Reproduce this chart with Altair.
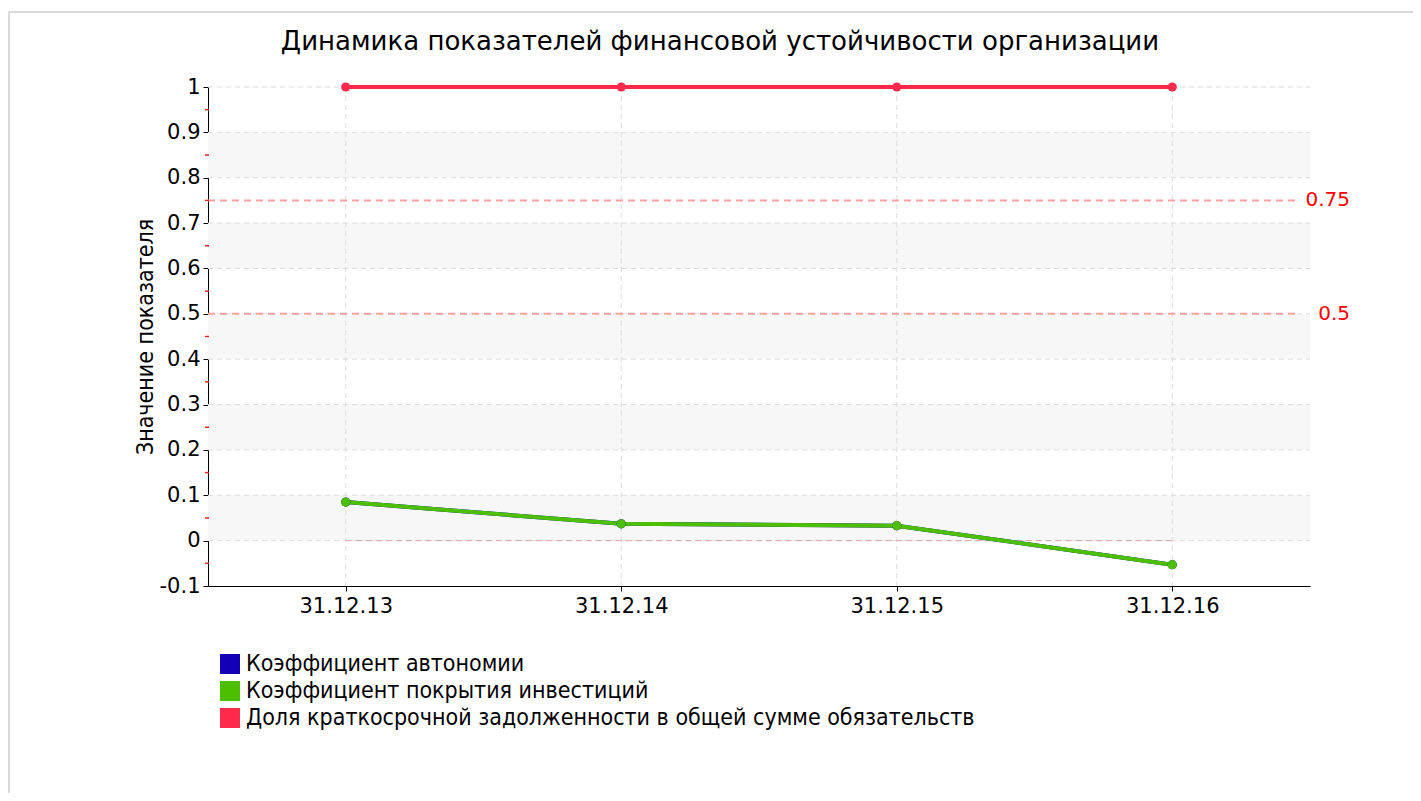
import altair as alt
import pandas as pd

# ---- data ----
dates = ["31.12.13", "31.12.14", "31.12.15", "31.12.16"]
series_names = [
    "Коэффициент автономии",
    "Коэффициент покрытия инвестиций",
    "Доля краткосрочной задолженности в общей сумме обязательств",
]
autonomy = [0.085, 0.037, 0.033, -0.053]
coverage = [0.085, 0.037, 0.033, -0.053]
short_debt = [1.0, 1.0, 1.0, 1.0]
series_colors = ["#1300b4", "#4cbf00", "#ff2a4b"]
series_widths = [4, 4, 5]

ref_values = [0.75, 0.5]
ref_labels = ["0.75", "0.5"]
band_lo = [0.8, 0.6, 0.4, 0.2, 0.0]
band_hi = [0.9, 0.7, 0.5, 0.3, 0.1]
y_ticks = [-0.1, 0.0, 0.1, 0.2, 0.3, 0.4, 0.5, 0.6, 0.7, 0.8, 0.9, 1.0]
minor_ticks = [-0.05, 0.05, 0.15, 0.25, 0.35, 0.45, 0.55, 0.65, 0.75, 0.85, 0.95]
zero_vals = [0.0, 0.0, 0.0, 0.0]

W, H = 1102, 499
FONT = "DejaVu Sans"
COND = "DejaVu Sans Condensed"

rows = []
for name, vals in zip(series_names, [autonomy, coverage, short_debt]):
    for d, v in zip(dates, vals):
        rows.append({"date": d, "series": name, "line_series": name, "value": v})
df = pd.DataFrame(rows)
legend_df = pd.DataFrame({"series": series_names})

x_enc = alt.X("date:N", sort=dates,
              scale=alt.Scale(type="point", padding=0.5, domain=dates),
              axis=alt.Axis(title=None, labelAngle=0, labelFont=FONT, labelFontSize=21,
                            labelColor="#000", domainColor="#000", tickColor="#000",
                            tickSize=5, labelPadding=4, grid=False))
y_scale = alt.Scale(domain=[-0.1, 1.0], nice=False, zero=False)
y_axis = alt.Axis(values=y_ticks, title="Значение показателя", titleFont=COND,
                  titleFontSize=23, titleFontWeight="normal", titleColor="#000",
                  titlePadding=2,
                  labelExpr="datum.value < 0 ? '-' + format(-datum.value, '~g') : format(datum.value, '~g')",
                  labelFont=FONT, labelFontSize=21, labelColor="#000", labelPadding=3,
                  domainColor="#000", tickColor="#000", tickSize=5, grid=False)
color_scale = alt.Scale(domain=series_names, range=series_colors)

# decorative page frame
frame = alt.Chart(pd.DataFrame({"k": [0]})).mark_rect(
    fill=None, stroke="#dadada", strokeWidth=2, clip=False
).encode(x=alt.value(-199), x2=alt.value(1400), y=alt.value(-75), y2=alt.value(900))

bands = alt.Chart(pd.DataFrame({"lo": band_lo, "hi": band_hi})).mark_rect(
    color="#f7f7f7"
).encode(y=alt.Y("lo:Q", scale=y_scale, axis=y_axis), y2="hi:Q",
         x=alt.value(0), x2=alt.value(W))

hgrid = alt.Chart(pd.DataFrame({"v": y_ticks[1:]})).mark_rule(
    color="#dcdcdc", strokeWidth=1, strokeDash=[5, 4]
).encode(y=alt.Y("v:Q", scale=y_scale), x=alt.value(0), x2=alt.value(W))

vgrid = alt.Chart(pd.DataFrame({"date": dates})).mark_rule(
    color="#dcdcdc", strokeWidth=1, strokeDash=[5, 4]
).encode(x=x_enc, y=alt.value(0), y2=alt.value(H))

minor = alt.Chart(pd.DataFrame({"v": minor_ticks})).mark_rule(
    color="#ff2020", strokeWidth=1.5
).encode(y=alt.Y("v:Q", scale=y_scale), x=alt.value(-3), x2=alt.value(1))

zero_line = alt.Chart(pd.DataFrame({"date": dates, "v": zero_vals})).mark_line(
    color="#d9a3a3", strokeWidth=1, strokeDash=[6, 4]
).encode(x=x_enc, y=alt.Y("v:Q", scale=y_scale))

refs = alt.Chart(pd.DataFrame({"v": ref_values, "t": ref_labels})).mark_rule(
    color="#ff9f9f", strokeWidth=2, strokeDash=[7, 5]
).encode(y=alt.Y("v:Q", scale=y_scale), x=alt.value(0), x2=alt.value(1092))

ref_text = alt.Chart(pd.DataFrame({"v": ref_values, "t": ref_labels})).mark_text(
    color="#ff0000", font=FONT, fontSize=20, align="right", baseline="middle"
).encode(y=alt.Y("v:Q", scale=y_scale), x=alt.value(1142), text="t:N")

lines = alt.Chart(df).mark_line(clip=False).encode(
    x=x_enc,
    y=alt.Y("value:Q", scale=y_scale),
    stroke=alt.Stroke("line_series:N", sort=series_names,
                      scale=alt.Scale(domain=series_names, range=series_colors),
                      legend=None),
    strokeWidth=alt.StrokeWidth("line_series:N", sort=series_names,
                                scale=alt.Scale(domain=series_names, range=series_widths),
                                legend=None),
    detail="line_series:N",
)

points = alt.Chart(df).mark_point(filled=True, size=85, opacity=1, clip=False).encode(
    x=x_enc,
    y=alt.Y("value:Q", scale=y_scale),
    color=alt.Color("series:N", scale=color_scale, legend=None),
)

main = alt.layer(frame, bands, hgrid, vgrid, zero_line, refs, ref_text, minor, lines, points)

# legend drawn below the plot, rows placed by its own point scale
leg_y = alt.Y("series:N", sort=series_names,
              scale=alt.Scale(type="point", domain=series_names, range=[577, 631], padding=0),
              axis=None)
leg_sq = alt.Chart(legend_df).mark_square(size=400, opacity=1, clip=False).encode(
    y=leg_y, x=alt.value(22),
    color=alt.Color("series:N", scale=color_scale, legend=None),
)
leg_txt = alt.Chart(legend_df).mark_text(
    align="left", baseline="middle", font=COND, fontSize=23, color="#000", clip=False
).encode(y=leg_y, x=alt.value(38), text="series:N")
legend_layer = alt.layer(leg_sq, leg_txt)

chart = alt.layer(main, legend_layer).resolve_scale(y="independent").properties(
    width=W, height=H,
    title=alt.TitleParams(
        "Динамика показателей финансовой устойчивости организации",
        font=FONT, fontSize=26, fontWeight="normal", color="#000",
        anchor="middle", dx=-39, offset=-44,
    ),
    autosize=alt.AutoSizeParams(type="none"),
    padding={"left": 200, "top": 79, "right": 103, "bottom": 207},
    background="white",
).configure_view(stroke="transparent", strokeWidth=0)

chart.save("out.html", embed_options={"renderer": "svg", "actions": False})
